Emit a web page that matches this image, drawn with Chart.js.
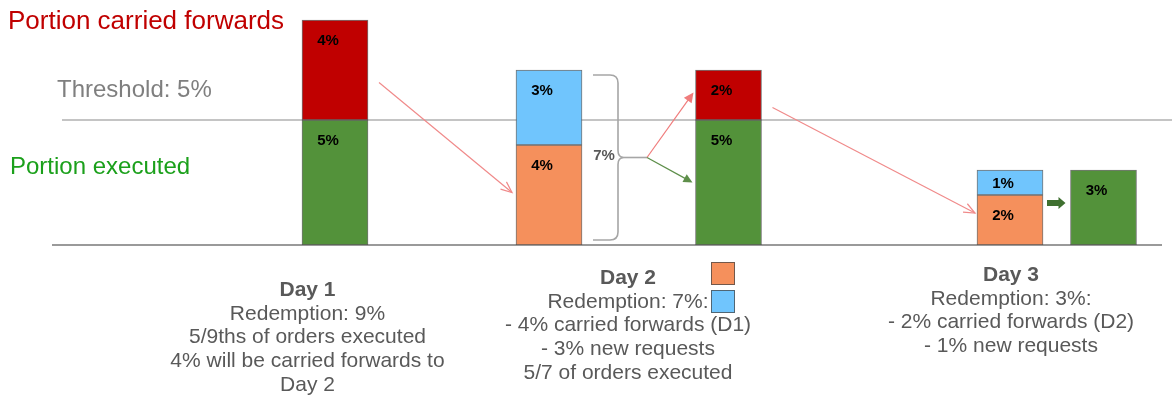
<!DOCTYPE html>
<html>
<head>
<meta charset="utf-8">
<script src="https://cdn.jsdelivr.net/npm/chart.js@4.4.1/dist/chart.umd.min.js"></script>
<style>
  html, body { margin: 0; padding: 0; background: #fff; }
  #wrap { width: 1172px; height: 400px; }
</style>
</head>
<body>
<div id="wrap"><canvas id="flowChart"></canvas></div>
<script>
// data (percent of fund)
const bars = ['Day 1', 'Day 2 requests', 'Day 2 executed', 'Day 3 requests', 'Day 3 executed'];
const executed = [5, null, 5, null, 3];
const carriedForward = [4, null, 2, null, null];
const carriedIn = [null, 4, null, 2, null];
const newRequests = [null, 3, null, 1, null];
const threshold = 5;

const dayNotes = [
    ['Day 1', 'Redemption: 9%', '5/9ths of orders executed', '4% will be carried forwards to', 'Day 2'],
    ['Day 2', 'Redemption: 7%:', '- 4% carried forwards (D1)', '- 3% new requests', '5/7 of orders executed'],
    ['Day 3', 'Redemption: 3%:', '- 2% carried forwards (D2)', '- 1% new requests']
];

// layout only
const barPos = [3.35, 5.49, 7.285, 10.1, 11.035];
const notePos = [3.075, 6.28, 10.11];
const noteTop = [290, 278, 275];

const RED = '#C00000', GREEN = '#53923A', ORANGE = '#F5905C', BLUE = '#70C5FD';
const EDGE = 'rgba(70,70,70,0.75)';

function series(vals) {
    return vals.map((v, i) => ({ x: barPos[i], y: v })).filter(p => p.y !== null);
}

function arrow(ctx, x1, y1, x2, y2, color, w, head) {
    const a = Math.atan2(y2 - y1, x2 - x1);
    ctx.save();
    ctx.strokeStyle = color; ctx.lineWidth = w;
    ctx.beginPath(); ctx.moveTo(x1, y1); ctx.lineTo(x2, y2); ctx.stroke();
    ctx.beginPath();
    ctx.moveTo(x2 - head * Math.cos(a - 0.4), y2 - head * Math.sin(a - 0.4));
    ctx.lineTo(x2, y2);
    ctx.lineTo(x2 - head * Math.cos(a + 0.4), y2 - head * Math.sin(a + 0.4));
    ctx.stroke();
    ctx.restore();
}

function filledArrow(ctx, x1, y1, x2, y2, color, w, head) {
    const a = Math.atan2(y2 - y1, x2 - x1);
    ctx.save();
    ctx.strokeStyle = color; ctx.fillStyle = color; ctx.lineWidth = w;
    ctx.beginPath(); ctx.moveTo(x1, y1);
    ctx.lineTo(x2 - head * 0.8 * Math.cos(a), y2 - head * 0.8 * Math.sin(a)); ctx.stroke();
    ctx.beginPath();
    ctx.moveTo(x2, y2);
    ctx.lineTo(x2 - head * Math.cos(a - 0.45), y2 - head * Math.sin(a - 0.45));
    ctx.lineTo(x2 - head * Math.cos(a + 0.45), y2 - head * Math.sin(a + 0.45));
    ctx.closePath(); ctx.fill();
    ctx.restore();
}

const decorations = {
    id: 'decorations',
    beforeDatasetsDraw(chart) {
        const ctx = chart.ctx, y = chart.scales.y;
        ctx.save();
        ctx.lineWidth = 2;
        ctx.strokeStyle = '#c4c4c4';
        ctx.beginPath(); ctx.moveTo(62, y.getPixelForValue(threshold)); ctx.lineTo(1172, y.getPixelForValue(threshold)); ctx.stroke();
        ctx.strokeStyle = '#9a9a9a';
        ctx.beginPath(); ctx.moveTo(52, y.getPixelForValue(0)); ctx.lineTo(1162, y.getPixelForValue(0)); ctx.stroke();
        ctx.restore();
    },
    afterDatasetsDraw(chart) {
        const ctx = chart.ctx, x = chart.scales.x, y = chart.scales.y;
        const el = (ds, i) => chart.getDatasetMeta(ds).data[i];

        // value labels inside each segment
        ctx.save();
        ctx.font = 'bold 15px "Liberation Sans", Arial, sans-serif';
        ctx.fillStyle = '#000';
        ctx.textAlign = 'center'; ctx.textBaseline = 'middle';
        chart.data.datasets.forEach((ds, d) => {
            chart.getDatasetMeta(d).data.forEach((bar, i) => {
                const h = Math.abs(bar.base - bar.y);
                ctx.fillText(ds.data[i].y + '%', bar.x - 7, bar.y + Math.min(21, h / 2 + 1));
            });
        });
        ctx.restore();

        // left side labels
        ctx.save();
        ctx.textBaseline = 'middle';
        ctx.font = '26px "Liberation Sans", Arial, sans-serif';
        ctx.fillStyle = RED;
        ctx.fillText('Portion carried forwards', 8, 22);
        ctx.font = '24px "Liberation Sans", Arial, sans-serif';
        ctx.fillStyle = '#7f7f7f';
        ctx.fillText('Threshold: 5%', 57, 90);
        ctx.fillStyle = '#1BA01B';
        ctx.fillText('Portion executed', 10, 167);
        ctx.restore();

        // day notes under the baseline
        ctx.save();
        ctx.textAlign = 'center'; ctx.textBaseline = 'middle';
        ctx.fillStyle = '#595959';
        dayNotes.forEach((lines, n) => {
            const cx = x.getPixelForValue(notePos[n]);
            lines.forEach((t, k) => {
                ctx.font = (k === 0 ? 'bold ' : '') + '21px "Liberation Sans", Arial, sans-serif';
                ctx.fillText(t, cx, noteTop[n] + k * 23.8);
            });
        });
        // colour keys next to Day 2 redemption line
        const keyX = x.getPixelForValue(notePos[1]) + 83;
        [[ORANGE, noteTop[1] - 16], [BLUE, noteTop[1] + 12]].forEach(([c, ky]) => {
            ctx.fillStyle = c; ctx.fillRect(keyX, ky, 24, 23);
            ctx.strokeStyle = EDGE; ctx.lineWidth = 1; ctx.strokeRect(keyX + 0.5, ky + 0.5, 23, 22);
        });
        ctx.restore();

        // arrow Day 1 carried -> Day 2 carried in
        const d1 = el(0, 0), d2in = el(1, 0), d2ex = el(0, 1), d3in = el(1, 1), d3ex = el(0, 2);
        arrow(ctx, d1.x + d1.width / 2 + 11, y.getPixelForValue(6.5), d2in.x - d2in.width / 2 - 4, y.getPixelForValue(2.1), '#F08A8A', 1.2, 12);

        // brace around Day 2 requests
        const top = y.getPixelForValue(carriedIn[1] + newRequests[1]) + 5, bot = y.getPixelForValue(0) - 5;
        const bx = d2in.x + d2in.width / 2 + 36, bl = bx - 25, mid = (top + bot) / 2;
        ctx.save();
        ctx.strokeStyle = '#a6a6a6'; ctx.lineWidth = 1.6;
        ctx.beginPath();
        ctx.moveTo(bl, top);
        ctx.lineTo(bx - 8, top);
        ctx.quadraticCurveTo(bx, top, bx, top + 8);
        ctx.lineTo(bx, mid - 7);
        ctx.quadraticCurveTo(bx, mid, bx + 6, mid);
        ctx.quadraticCurveTo(bx, mid, bx, mid + 7);
        ctx.lineTo(bx, bot - 8);
        ctx.quadraticCurveTo(bx, bot, bx - 8, bot);
        ctx.lineTo(bl, bot);
        ctx.stroke();
        ctx.beginPath(); ctx.moveTo(bx + 6, mid); ctx.lineTo(bx + 29, mid); ctx.stroke();
        ctx.font = 'bold 15px "Liberation Sans", Arial, sans-serif';
        ctx.fillStyle = '#595959'; ctx.textAlign = 'center'; ctx.textBaseline = 'middle';
        ctx.fillText((carriedIn[1] + newRequests[1]) + '%', bx - 14, mid - 2);
        ctx.restore();
        const sx = bx + 29;
        filledArrow(ctx, sx, mid, d2ex.x - d2ex.width / 2 - 2, y.getPixelForValue(6.1), '#F07C7C', 1.2, 11);
        filledArrow(ctx, sx, mid, d2ex.x - d2ex.width / 2 - 3, y.getPixelForValue(2.5), '#5E8F4A', 1.2, 10);

        // arrow Day 2 carried -> Day 3 carried in
        arrow(ctx, d2ex.x + d2ex.width / 2 + 11, y.getPixelForValue(5.5), d3in.x - d3in.width / 2 - 2, y.getPixelForValue(1.28), '#F08A8A', 1.2, 12);

        // block arrow Day 3 requests -> executed
        const ay = y.getPixelForValue(1.68), ax1 = d3in.x + d3in.width / 2 + 4, ax2 = d3ex.x - d3ex.width / 2 - 5;
        ctx.save();
        ctx.fillStyle = '#3F7030';
        ctx.beginPath();
        ctx.moveTo(ax1, ay - 3); ctx.lineTo(ax2 - 7, ay - 3); ctx.lineTo(ax2 - 7, ay - 6);
        ctx.lineTo(ax2, ay); ctx.lineTo(ax2 - 7, ay + 6); ctx.lineTo(ax2 - 7, ay + 3); ctx.lineTo(ax1, ay + 3);
        ctx.closePath(); ctx.fill();
        ctx.restore();
    }
};

const ctx = document.getElementById('flowChart').getContext('2d');
const flowChart = new Chart(ctx, {
    type: 'bar',
    data: {
        datasets: [
            { label: 'Executed', data: series(executed), backgroundColor: GREEN },
            { label: 'Carried forward (in)', data: series(carriedIn), backgroundColor: ORANGE },
            { label: 'Carried forward (out)', data: series(carriedForward), backgroundColor: RED },
            { label: 'New requests', data: series(newRequests), backgroundColor: BLUE }
        ].map(ds => Object.assign(ds, { borderColor: EDGE, borderWidth: 1, borderSkipped: false, barThickness: 66 }))
    },
    options: {
        responsive: true,
        maintainAspectRatio: false,
        animation: false,
        layout: { padding: { top: 0, bottom: 155, left: 0, right: 0 } },
        plugins: { legend: { display: false }, tooltip: { enabled: false } },
        scales: {
            x: { type: 'linear', min: 0, max: 11.72, offset: false, stacked: true, display: false },
            y: { min: 0, max: 9.8, stacked: true, display: false }
        }
    },
    plugins: [decorations]
});
</script>
</body>
</html>
